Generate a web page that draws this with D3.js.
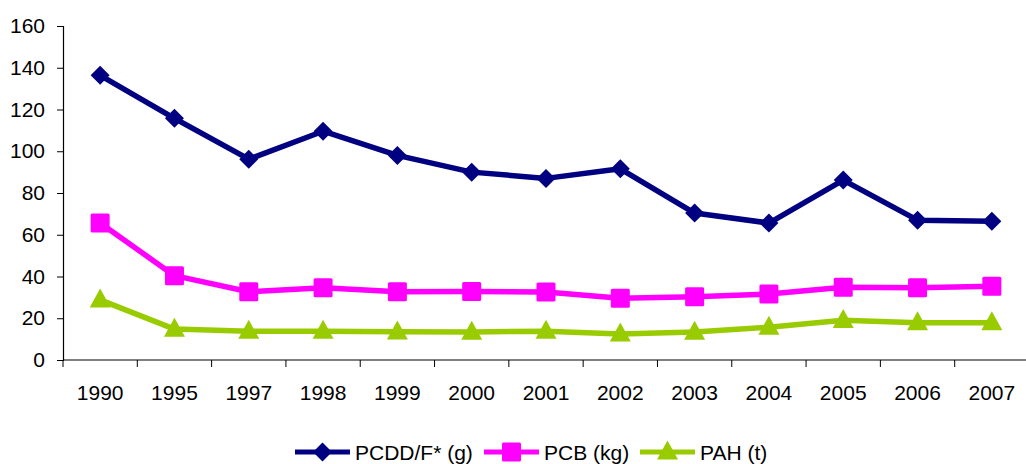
<!DOCTYPE html>
<html>
<head>
<meta charset="utf-8">
<script src="https://cdn.jsdelivr.net/npm/d3@7"></script>
<style>
  html, body { margin: 0; padding: 0; background: #fff; }
  svg { display: block; }
  text { font-family: "Liberation Sans", Arial, sans-serif; fill: #000; }
</style>
</head>
<body>
<svg id="chart" width="1026" height="464"></svg>
<script>
// Emission data by year
const years = ["1990","1995","1997","1998","1999","2000","2001","2002","2003","2004","2005","2006","2007"];
const pcdd = [136.4, 115.8, 96.2, 109.6, 98.0, 90.0, 87.0, 91.6, 70.4, 65.6, 86.2, 67.0, 66.5];
const pcb  = [65.6, 40.4, 32.7, 34.6, 32.7, 32.8, 32.6, 29.6, 30.3, 31.6, 34.8, 34.6, 35.3];
const pah  = [28.8, 14.8, 13.8, 13.8, 13.5, 13.4, 13.8, 12.5, 13.4, 15.7, 19.0, 17.9, 17.9];
const yTicks = [0, 20, 40, 60, 80, 100, 120, 140, 160];

const seriesList = [
  { name: "PCDD/F* (g)", values: pcdd, color: "#000080", shape: "diamond" },
  { name: "PCB (kg)",    values: pcb,  color: "#FF00FF", shape: "square" },
  { name: "PAH (t)",     values: pah,  color: "#99CC00", shape: "triangle" }
];

const svg = d3.select("#chart");
const plotLeft = 63, plotRight = 1029, plotTop = 26, plotBottom = 360;
const fontSize = "21px";

const x = d3.scaleBand().domain(years).range([plotLeft, plotRight]).paddingInner(0).paddingOuter(0);
const y = d3.scaleLinear().domain([0, 160]).range([plotBottom, plotTop]);

// Y axis
const yAxis = svg.append("g").attr("transform", `translate(${plotLeft},0)`)
  .call(d3.axisLeft(y).tickValues(yTicks).tickSize(6).tickPadding(12));
yAxis.select(".domain").attr("stroke", "#000").attr("stroke-width", 1.2);
yAxis.selectAll(".tick line").attr("stroke", "#000");
yAxis.selectAll("text").style("font-size", fontSize).attr("fill", "#000")
  .style("font-family", "'Liberation Sans', Arial, sans-serif");

// X axis with ticks at category boundaries
const xAxisG = svg.append("g").attr("transform", `translate(0,${plotBottom})`);
xAxisG.append("line").attr("x1", plotLeft).attr("x2", 1026).attr("y1", 0).attr("y2", 0)
  .attr("stroke", "#000").attr("stroke-width", 1.2);
xAxisG.selectAll("line.tk").data(years).join("line").attr("class", "tk")
  .attr("x1", d => x(d)).attr("x2", d => x(d)).attr("y1", 0).attr("y2", 7)
  .attr("stroke", "#000");
xAxisG.selectAll("text").data(years).join("text")
  .attr("x", d => x(d) + x.bandwidth() / 2).attr("y", 40)
  .attr("text-anchor", "middle").style("font-size", fontSize).text(d => d);

const cx = d => x(d) + x.bandwidth() / 2;

function drawMarker(g, shape, color, px, py) {
  if (shape === "diamond") {
    const s = 9.5;
    g.append("path").attr("d", `M${px},${py - s}L${px + s},${py}L${px},${py + s}L${px - s},${py}Z`).attr("fill", color);
  } else if (shape === "square") {
    const s = 9.5;
    g.append("rect").attr("x", px - s).attr("y", py - s).attr("width", 2 * s).attr("height", 2 * s)
      .attr("rx", 1.5).attr("fill", color);
  } else {
    const h = 19, w = 21;
    g.append("path").attr("d", `M${px},${py - h * 0.6}L${px + w / 2},${py + h * 0.4}L${px - w / 2},${py + h * 0.4}Z`).attr("fill", color);
  }
}

const line = d3.line().x(d => cx(d.year)).y(d => y(d.v));

seriesList.slice().reverse().forEach(s => {
  const pts = years.map((yr, i) => ({ year: yr, v: s.values[i] }));
  const g = svg.append("g");
  g.append("path").datum(pts).attr("d", line).attr("fill", "none")
    .attr("stroke", s.color).attr("stroke-width", 5.5).attr("stroke-linejoin", "round");
  pts.forEach(p => drawMarker(g, s.shape, s.color, cx(p.year), y(p.v)));
});

// Legend
const legendPos = [295, 484, 640];
const legendY = 452;
seriesList.forEach((s, i) => {
  const g = svg.append("g");
  const x0 = legendPos[i];
  g.append("line").attr("x1", x0).attr("x2", x0 + 55).attr("y1", legendY).attr("y2", legendY)
    .attr("stroke", s.color).attr("stroke-width", 5);
  drawMarker(g, s.shape, s.color, x0 + 27.5, legendY);
  g.append("text").attr("x", x0 + 60).attr("y", legendY + 8).style("font-size", fontSize).text(s.name);
});
</script>
</body>
</html>
